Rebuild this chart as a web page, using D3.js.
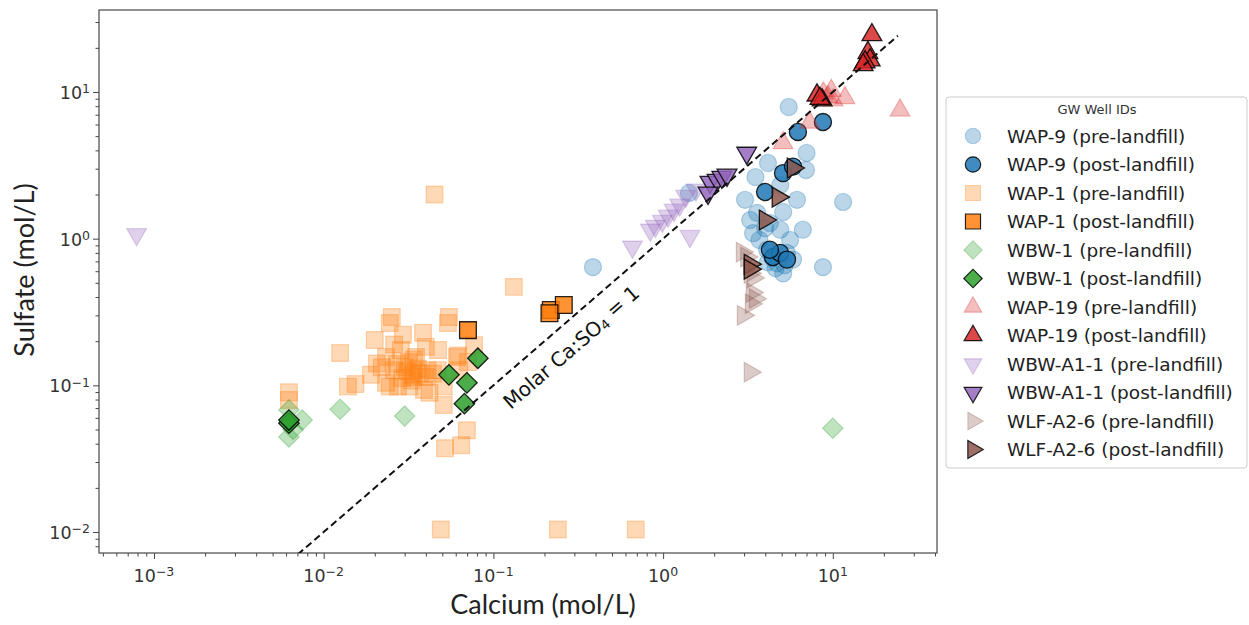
<!DOCTYPE html>
<html>
<head>
<meta charset="utf-8">
<script src="https://cdn.jsdelivr.net/npm/d3@7"></script>
<style>
  body { margin: 0; background: #fff; }
  svg { display: block; }
</style>
</head>
<body>
<div id="chart"></div>
<script>
// data: [calcium, sulfate] in mol/L
var wap9Pre = [[5.5,7.9],[7.0,3.84],[4.15,3.28],[6.95,2.94],[3.5,2.63],[4.9,2.32],[3.04,1.84],[6.15,1.84],
  [11.5,1.78],[3.58,1.5],[5.1,1.52],[3.26,1.34],[4.26,1.28],[6.66,1.15],[3.39,1.09],[4.9,1.15],[5.6,0.98],
  [4.1,0.84],[5.37,0.8],[4.69,0.68],[5.1,0.58],[8.75,0.64],[5.83,0.72],[4.4,0.74],[4.6,0.63],[5.2,0.66],
  [4.15,0.69],[3.7,0.98],[3.99,1.18],[0.386,0.64],[1.42,2.05]];
var wap9Post = [[8.75,6.24],[6.23,5.34],[5.09,2.8],[5.83,3.1],[3.99,2.08],[4.44,0.75],[4.89,0.8],[5.37,0.72],[4.26,0.84]];

var wap1Pre = [[0.045,2.0],[0.132,0.469],[0.0252,0.292],[0.0245,0.266],[0.0547,0.292],[0.054,0.266],[0.020,0.204],
  [0.0293,0.221],[0.0385,0.228],[0.0769,0.188],[0.0472,0.174],[0.0125,0.166],[0.0233,0.156],[0.0318,0.144],
  [0.061,0.156],[0.0708,0.144],[0.019,0.118],[0.0139,0.098],[0.0154,0.102],[0.0233,0.104],[0.0274,0.098],
  [0.0336,0.118],[0.040,0.114],[0.051,0.098],[0.042,0.089],[0.051,0.0734],[0.00624,0.0897],[0.00624,0.0795],
  [0.0698,0.0494],[0.0519,0.0373],[0.0646,0.0391],[0.049,0.0104],[0.24,0.0104],[0.69,0.0104],
  [0.022,0.133],[0.026,0.127],[0.030,0.133],[0.034,0.114],[0.037,0.121],[0.041,0.127],[0.035,0.156],
  [0.0285,0.174],[0.040,0.183],[0.026,0.19],[0.0206,0.141],[0.0245,0.098],[0.032,0.098],[0.039,0.093],
  [0.047,0.127],[0.063,0.127],[0.031,0.125],[0.033,0.108],[0.029,0.112],[0.036,0.13],[0.044,0.12],
  [0.027,0.14],[0.034,0.15],[0.062,0.16]];
var wap1Post = [[0.0708,0.238],[0.218,0.326],[0.26,0.353],[0.214,0.31]];

var wbw1Pre = [[0.0125,0.0687],[0.030,0.0617],[0.00624,0.068],[0.00747,0.058],[0.00624,0.0445],[0.0066,0.05],[10.0,0.051]];
var wbw1Post = [[0.0547,0.118],[0.0698,0.104],[0.081,0.153],[0.0675,0.075],[0.00624,0.0552],[0.00624,0.058]];

var wap19Pre = [[11.8,9.1],[24.9,7.5],[9.37,9.25],[10.05,8.8],[5.09,4.49],[7.3,6.2],[8.8,9.8],[9.8,10.2]];
var wap19Post = [[17.0,24.5],[16.1,18.5],[16.6,16.5],[15.5,16.0],[15.1,15.3],[8.07,9.5],[8.65,8.8],[8.4,9.0]];

var wbwA1Pre = [[0.00079,1.07],[0.66,0.88],[1.44,1.04],[0.84,1.15],[0.9,1.22],[0.99,1.32],[1.07,1.43],
  [1.16,1.57],[1.25,1.7],[1.36,1.95],[1.56,2.15]];
var wbwA1Post = [[3.11,3.84],[1.89,2.43],[2.08,2.51],[2.22,2.63],[2.38,2.72],[1.84,2.05]];

var wlfPre = [[2.92,0.81],[3.25,0.58],[3.39,0.54],[3.34,0.43],[3.48,0.39],[3.3,0.36],[2.96,0.30],[3.25,0.123],[3.1,0.75]];
var wlfPost = [[5.83,3.03],[4.75,1.92],[3.99,1.34],[3.25,0.67],[3.25,0.62]];

var wellIds = ["WAP-9","WAP-1","WBW-1","WAP-19","WBW-A1-1","WLF-A2-6"];
var wellColors = ["#1f77b4","#ff7f0e","#2ca02c","#d62728","#9467bd","#8c564b"];
var wellShapes = ["circle","square","diamond","up","down","right"];
var preData = [wap9Pre, wap1Pre, wbw1Pre, wap19Pre, wbwA1Pre, wlfPre];
var postData = [wap9Post, wap1Post, wbw1Post, wap19Post, wbwA1Post, wlfPost];

var xMajor = [1e-3, 1e-2, 1e-1, 1, 10];
var yMajor = [1e-2, 1e-1, 1, 10];

// page and plot area
var W = 1249, H = 625;
var plot = {left: 99, top: 10, right: 937, bottom: 553};

var svg = d3.select("#chart").append("svg")
  .attr("width", W).attr("height", H)
  .style("font-family", "'DejaVu Sans', sans-serif");

var x = d3.scaleLog()
  .domain([Math.pow(10, -3.324), Math.pow(10, 1.614)])
  .range([plot.left, plot.right]);
var y = d3.scaleLog()
  .domain([Math.pow(10, -2.143), Math.pow(10, 1.559)])
  .range([plot.bottom, plot.top]);

function minors(lo, hi) {
  var out = [];
  for (var e = lo; e <= hi; e++)
    for (var k = 2; k <= 9; k++) out.push(k * Math.pow(10, e));
  return out;
}
var xMinor = minors(-4, 1).filter(function(v) { return v > x.domain()[0] && v < x.domain()[1]; });
var yMinor = minors(-3, 1).filter(function(v) { return v > y.domain()[0] && v < y.domain()[1]; });

function powLabel(sel) {
  sel.each(function(d) {
    var e = Math.round(Math.log10(d));
    var t = d3.select(this);
    t.append("tspan").text("10");
    t.append("tspan").attr("dy", "-0.45em").attr("font-size", "12.5px")
      .text(e < 0 ? "\u2212" + (-e) : String(e));
  });
}

// x axis
var gx = svg.append("g").attr("transform", "translate(0," + plot.bottom + ")");
gx.append("g").call(d3.axisBottom(x).tickValues(xMinor).tickSize(3.5).tickFormat(""));
gx.append("g").call(d3.axisBottom(x).tickValues(xMajor).tickSize(6).tickFormat(""));
gx.selectAll(".domain").remove();
gx.selectAll("line").attr("stroke", "#444");
gx.selectAll(".xlab").data(xMajor).enter().append("text")
  .attr("class", "xlab")
  .attr("x", function(d) { return x(d); })
  .attr("y", 29)
  .attr("text-anchor", "middle")
  .attr("font-size", "17.5px")
  .attr("fill", "#333")
  .call(powLabel);

// y axis
var gy = svg.append("g").attr("transform", "translate(" + plot.left + ",0)");
gy.append("g").call(d3.axisLeft(y).tickValues(yMinor).tickSize(3.5).tickFormat(""));
gy.append("g").call(d3.axisLeft(y).tickValues(yMajor).tickSize(6).tickFormat(""));
gy.selectAll(".domain").remove();
gy.selectAll("line").attr("stroke", "#444");
gy.selectAll(".ylab").data(yMajor).enter().append("text")
  .attr("class", "ylab")
  .attr("x", -9)
  .attr("y", function(d) { return y(d) + 7; })
  .attr("text-anchor", "end")
  .attr("font-size", "17.5px")
  .attr("fill", "#333")
  .call(powLabel);

// frame
svg.append("rect")
  .attr("x", plot.left).attr("y", plot.top)
  .attr("width", plot.right - plot.left).attr("height", plot.bottom - plot.top)
  .attr("fill", "none").attr("stroke", "#555").attr("stroke-width", 1.3);

// axis titles
svg.append("text")
  .attr("x", 543).attr("y", 614)
  .attr("text-anchor", "middle")
  .attr("font-family", "Lato, sans-serif")
  .attr("font-size", "27px").attr("fill", "#222")
  .text("Calcium (mol/L)");
svg.append("text")
  .attr("transform", "translate(34,270) rotate(-90)")
  .attr("text-anchor", "middle")
  .attr("font-family", "Lato, sans-serif")
  .attr("font-size", "27px").attr("fill", "#222")
  .text("Sulfate (mol/L)");

// clip for the data
svg.append("clipPath").attr("id", "clip").append("rect")
  .attr("x", plot.left).attr("y", plot.top)
  .attr("width", plot.right - plot.left).attr("height", plot.bottom - plot.top);
var gData = svg.append("g").attr("clip-path", "url(#clip)");

// shapes
function symbolPath(shape) {
  if (shape === "circle") return d3.symbol(d3.symbolCircle, 230)();
  if (shape === "square") return d3.symbol(d3.symbolSquare, 280)();
  if (shape === "diamond") return d3.symbol(d3.symbolSquare, 210)();
  return d3.symbol(d3.symbolTriangle, 170)();
}
function symbolRotate(shape) {
  if (shape === "diamond") return 45;
  if (shape === "down") return 180;
  if (shape === "right") return 90;
  return 0;
}

function drawPoints(g, data, i, post) {
  var shape = wellShapes[i];
  g.selectAll(null).data(data).enter().append("path")
    .attr("d", symbolPath(shape))
    .attr("transform", function(d) {
      return "translate(" + x(d[0]) + "," + y(d[1]) + ") rotate(" + symbolRotate(shape) + ")";
    })
    .attr("fill", wellColors[i])
    .attr("fill-opacity", post ? 0.85 : 0.3)
    .attr("stroke", post ? "#000" : wellColors[i])
    .attr("stroke-opacity", post ? 0.85 : 0.3)
    .attr("stroke-width", post ? 1.3 : 1.2);
}

wellIds.forEach(function(id, i) {
  drawPoints(gData, preData[i], i, false);
  drawPoints(gData, postData[i], i, true);
});

// 1:1 molar line
gData.append("path")
  .datum([0.004, 24.2])
  .attr("fill", "none")
  .attr("stroke", "#111")
  .attr("stroke-width", 2)
  .attr("stroke-dasharray", "7,4")
  .attr("d", d3.line()
    .x(function(d) { return x(d); })
    .y(function(d) { return y(d); }));

var ang = Math.atan2(y(10) - y(1), x(10) - x(1)) * 180 / Math.PI;
var lab = svg.append("text")
  .attr("transform", "translate(" + x(0.29) + "," + y(0.18) + ") rotate(" + ang + ")")
  .attr("text-anchor", "middle")
  .attr("dominant-baseline", "central")
  .attr("font-size", "20px")
  .attr("fill", "#111");
lab.append("tspan").text("Molar Ca:SO");
lab.append("tspan").attr("dy", "0.3em").attr("font-size", "13px").text("4");
lab.append("tspan").attr("dy", "-0.3em").text(" = 1");

// legend
var legend = svg.append("g");
legend.append("rect")
  .attr("x", 946).attr("y", 97).attr("width", 301).attr("height", 371)
  .attr("rx", 3)
  .attr("fill", "#fff").attr("stroke", "#ccc").attr("stroke-width", 1);
legend.append("text")
  .attr("x", 1097).attr("y", 114)
  .attr("text-anchor", "middle")
  .attr("font-size", "13px").attr("fill", "#333")
  .text("GW Well IDs");

var rows = [];
wellIds.forEach(function(id, i) {
  rows.push({label: id + " (pre-landfill)", i: i, post: false});
  rows.push({label: id + " (post-landfill)", i: i, post: true});
});
var row = legend.selectAll(".row").data(rows).enter().append("g")
  .attr("transform", function(d, k) { return "translate(0," + (136 + k * 28.5) + ")"; });
row.each(function(d) {
  var g = d3.select(this);
  var shape = wellShapes[d.i];
  g.append("path")
    .attr("d", symbolPath(shape))
    .attr("transform", "translate(973,0) rotate(" + symbolRotate(shape) + ") scale(0.9)")
    .attr("fill", wellColors[d.i])
    .attr("fill-opacity", d.post ? 0.85 : 0.3)
    .attr("stroke", d.post ? "#000" : wellColors[d.i])
    .attr("stroke-opacity", d.post ? 0.85 : 0.3)
    .attr("stroke-width", d.post ? 1.3 : 1.2);
  g.append("text")
    .attr("x", 1007).attr("y", 0)
    .attr("dominant-baseline", "central")
    .attr("font-size", "18.5px").attr("fill", "#222")
    .text(d.label);
});
</script>
</body>
</html>
